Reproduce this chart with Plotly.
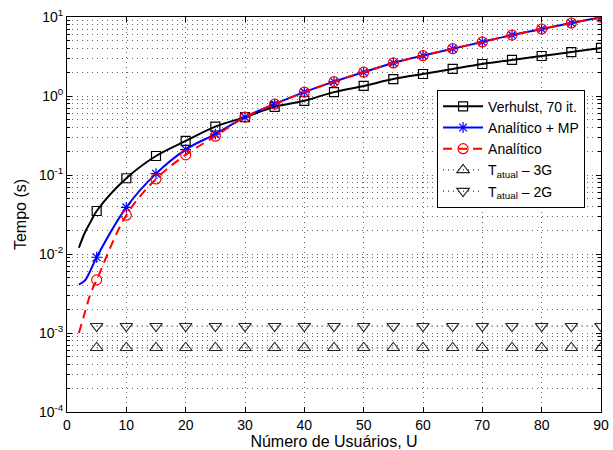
import numpy as np
import plotly.graph_objects as go

# users (line starts at U=2, markers every 5)
u_line = [2, 3, 4, 5, 10, 15, 20, 25, 30, 35, 40, 45, 50, 55, 60, 65, 70, 75, 80, 85, 90]
u_mark = [5, 10, 15, 20, 25, 30, 35, 40, 45, 50, 55, 60, 65, 70, 75, 80, 85, 90]

verhulst = [0.012, 0.0186, 0.0257, 0.035, 0.091, 0.174, 0.27, 0.41, 0.54, 0.73, 0.87,
            1.12, 1.34, 1.64, 1.90, 2.20, 2.54, 2.86, 3.21, 3.60, 4.06]
analitico_mp = [0.0041, 0.0046, 0.0063, 0.0091, 0.039, 0.104, 0.21, 0.33, 0.54, 0.79, 1.12,
                1.52, 2.0, 2.62, 3.24, 3.97, 4.83, 5.9, 7.05, 8.4, 9.9]
analitico = [0.001, 0.0018, 0.0032, 0.0047, 0.031, 0.089, 0.18, 0.31, 0.54, 0.79, 1.12,
             1.52, 2.0, 2.62, 3.24, 3.97, 4.83, 5.9, 7.05, 8.4, 9.9]
t_3g = [0.00065] * len(u_mark)
t_2g = [0.00122] * len(u_mark)

series = [
    ('Verhulst, 70 it.', verhulst, 'black', 'solid', 'square-open', 9),
    ('Analítico + MP', analitico_mp, 'blue', 'solid', 'asterisk-open', 9),
    ('Analítico', analitico, 'red', '9px,6px', 'circle-open', 10),
]

fig = go.Figure()

for name, vals, color, dash, sym, ms in series:
    # line over every point, markers only every 5 users
    fig.add_trace(go.Scatter(x=u_line, y=vals, mode='lines', line=dict(color=color, width=2, dash=dash, shape='spline'),
                             showlegend=False, hoverinfo='skip'))
    mk = [v for u, v in zip(u_line, vals) if u in u_mark]
    fig.add_trace(go.Scatter(x=u_mark, y=mk, mode='markers', showlegend=False,
                             marker=dict(symbol=sym, size=ms, color=color, line=dict(width=1.2, color=color))))
    fig.add_trace(go.Scatter(x=[None], y=[None], mode='lines+markers', name=name,
                             line=dict(color=color, width=2, dash=dash),
                             marker=dict(symbol=sym, size=ms, color=color, line=dict(width=1.2, color=color))))

for name, vals, sym in [('T<sub>atual</sub> – 3G', t_3g, 'triangle-up-open'),
                        ('T<sub>atual</sub> – 2G', t_2g, 'triangle-down-open')]:
    fig.add_trace(go.Scatter(x=u_mark, y=vals, mode='lines+markers', name=name,
                             line=dict(color='#222', width=1.3, dash='1px,4px'),
                             marker=dict(symbol=sym, size=11, color='#222', line=dict(width=1.1, color='#222'))))

decades = [-4, -3, -2, -1, 0, 1]
minor_vals = [m * 10.0 ** d for d in decades[:-1] for m in range(2, 10)]

grid = dict(showgrid=True, gridcolor='#666', griddash='1px,4px', gridwidth=1)

fig.update_layout(
    width=613, height=450,
    margin=dict(l=67, r=12, t=17, b=38, autoexpand=False),
    paper_bgcolor='white', plot_bgcolor='white',
    font=dict(family='Arial, Liberation Sans', size=14, color='black'),
    legend=dict(x=0.693, y=0.816, xanchor='left', yanchor='top', bgcolor='white',
                bordercolor='black', borderwidth=1, font=dict(size=14), tracegroupgap=0,
                itemwidth=40),
    showlegend=True,
)
fig.update_xaxes(
    range=[0, 90], tickvals=list(range(0, 91, 10)), automargin=False, ticklabeloverflow='allow',
    title=dict(text='Número de Usuários, U', standoff=2, font=dict(size=16)),
    showline=True, linecolor='black', linewidth=1, mirror='allticks',
    ticks='inside', ticklen=5, tickcolor='black', zeroline=False, **grid,
)
fig.update_yaxes(
    type='log', range=[-4, 1], automargin=False, ticklabeloverflow='allow',
    tickvals=[10.0 ** d for d in decades],
    ticktext=['10<sup>%d</sup>' % d for d in decades],
    title=dict(text='Tempo (s)', standoff=8, font=dict(size=16)),
    showline=True, linecolor='black', linewidth=1, mirror='allticks',
    ticks='inside', ticklen=5, tickcolor='black', zeroline=False, **grid,
    minor=dict(tickvals=minor_vals, ticks='inside', ticklen=3, tickcolor='black', **grid),
)

# drop the default 8px body margin so the 613x450 figure fills the window
fig.write_html("out.html", config={'displayModeBar': False},
               post_script="document.body.style.margin='0';")
